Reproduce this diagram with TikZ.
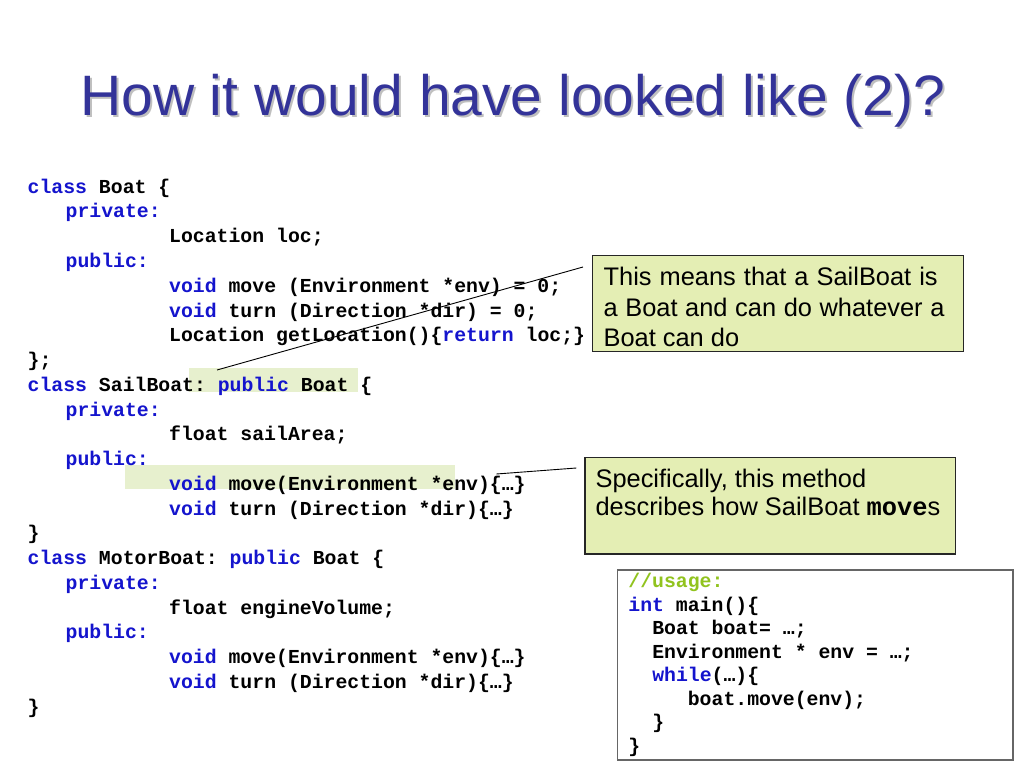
\documentclass[tikz,border=0pt]{standalone}
\usepackage{fontspec}
\setmainfont{Liberation Sans}
\setmonofont{Liberation Mono}
\usetikzlibrary{calc}
\definecolor{kwblue}{RGB}{20,20,205}
\definecolor{titleblue}{RGB}{51,51,153}
\definecolor{notegreen}{RGB}{228,238,180}
\definecolor{markgreen}{RGB}{231,240,206}
\definecolor{cmtgreen}{RGB}{145,195,30}
\newcommand{\kw}[1]{\textcolor{kwblue}{#1}}
\newcommand{\ia}{\hspace*{38pt}}
\newcommand{\ib}{\hspace*{141.5pt}}

\begin{document}
\frenchspacing
\begin{tikzpicture}[x=1pt, y=-1pt,
    code/.style={anchor=north west, inner sep=0pt, align=left, font=\fontsize{19.8}{24.76}\selectfont\ttfamily\bfseries},
    note/.style={draw=black!85, line width=1.2pt, fill=notegreen, anchor=north west, inner xsep=11pt, inner ysep=0pt, align=left, execute at begin node={\spaceskip=0pt\xspaceskip=0pt\relax}},
    markbox/.style={fill=markgreen, draw=none, inner sep=0pt, anchor=north west}]
    \useasboundingbox (0,0) rectangle (1024,768);
    % title with its shadow
    \node [anchor=base west, inner sep=0pt, text=black!25, font=\fontsize{57}{68}\selectfont] (titleshadow) at (82,117) {How it would have looked like (2)?};
    \node [anchor=base west, inner sep=0pt, text=titleblue, font=\fontsize{57}{68}\selectfont] (title) at (80,115) {How it would have looked like (2)?};
    \node [markbox, minimum width=169pt, minimum height=23.5pt] (markinherit) at (189,368) {};
    \node [markbox, minimum width=330pt, minimum height=24pt] (markmove) at (125,465) {};
    \node [code] (boats) at (27.5,175) {\rule{0pt}{18pt}\kw{class} Boat \{\\
        \ia\kw{private:}\\
        \ib Location loc;\\
        \ia\kw{public:}\\
        \ib\kw{void} move (Environment *env) = 0;\\
        \ib\kw{void} turn (Direction *dir) = 0;\\
        \ib Location getLocation()\{\kw{return} loc;\}\\
        \};\\
        \kw{class} SailBoat: \kw{public} Boat \{\\
        \ia\kw{private:}\\
        \ib float sailArea;\\
        \ia\kw{public:}\\
        \ib\kw{void} move(Environment *env)\{…\}\\
        \ib\kw{void} turn (Direction *dir)\{…\}\\
        \}\\
        \kw{class} MotorBoat: \kw{public} Boat \{\\
        \ia\kw{private:}\\
        \ib float engineVolume;\\
        \ia\kw{public:}\\
        \ib\kw{void} move(Environment *env)\{…\}\\
        \ib\kw{void} turn (Direction *dir)\{…\}\\
        \}};
    \node [note, text width=349pt, font=\fontsize{25.4}{30.5}\selectfont] (means) at (592,255) {\rule{0pt}{30pt}This means that a SailBoat is a Boat and can do whatever a Boat can do\rule[-5pt]{0pt}{5pt}};
    \node [note, text width=349.4pt, inner xsep=10.7pt, font=\fontsize{25.4}{28.3}\selectfont] (method) at (584.3,456.7) {\rule{0pt}{30pt}Specifically, this method\\ describes how SailBoat {\ttfamily\bfseries move}s\rule[-38.3pt]{0pt}{38.3pt}};
    \node [note, fill=none, draw=black!60, line width=1.5pt, text width=373.6pt, font=\fontsize{19.8}{23.57}\selectfont\ttfamily\bfseries] (usage) at (616.7,569.3) {\rule{0pt}{17.4pt}\textcolor{cmtgreen}{//usage:}\\
        \kw{int} main()\{\\
        \hspace*{23.8pt}Boat boat= …;\\
        \hspace*{23.8pt}Environment * env = …;\\
        \hspace*{23.8pt}\kw{while}(…)\{\\
        \hspace*{59.4pt}boat.move(env);\\
        \hspace*{23.8pt}\}\\
        \}\rule[-7.3pt]{0pt}{7.3pt}};
    \coordinate (inhfrom) at ($(markinherit.north west)+(28,2)$);
    \coordinate (inhto) at ($(means.north west)+(-9,12)$);
    \coordinate (movefrom) at ($(markmove.north east)+(41,9)$);
    \coordinate (moveto) at ($(method.north west)+(-8,11.3)$);
    \draw [line width=0.9pt] (inhfrom) -- (inhto);
    \draw [line width=0.9pt] (movefrom) -- (moveto);
\end{tikzpicture}
\end{document}
